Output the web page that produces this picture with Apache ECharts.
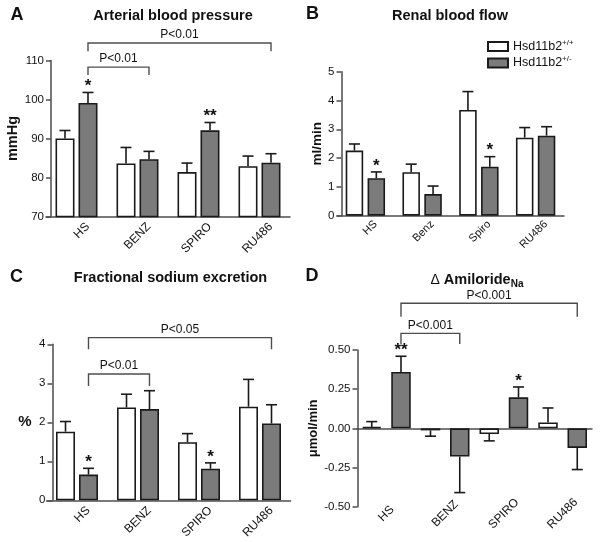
<!DOCTYPE html>
<html><head><meta charset="utf-8">
<script src="https://cdn.jsdelivr.net/npm/echarts@6/dist/echarts.min.js"></script>
<style>html,body{margin:0;padding:0;background:#fff}#c{width:600px;height:542px}</style>
</head><body><div id="c"></div>
<script>
// ---------- data ----------
const groupsUpper = ['HS', 'BENZ', 'SPIRO', 'RU486'];
const groupsB = ['HS', 'Benz', 'Spiro', 'RU486'];
const seriesNames = ['Hsd11b2+/+', 'Hsd11b2+/-'];

// A: arterial blood pressure (mmHg)
const bpWT = [90.0, 83.6, 81.4, 82.9];
const bpWTErr = [2.05, 4.1, 2.3, 2.6];
const bpHet = [99.1, 84.7, 92.1, 83.8];
const bpHetErr = [2.7, 2.0, 2.0, 2.3];
const bpHetSig = ['*', '', '**', ''];
const bpBrackets = [[0, 3, 114.5, 112.4], [0, 1, 108.3, 106.3]];
const bpBracketLabels = ['P<0.01', 'P<0.01'];
const bpTicks = [70, 80, 90, 100, 110];

// B: renal blood flow (ml/min)
const rbfWT = [2.26, 1.51, 3.67, 2.71];
const rbfWTErr = [0.23, 0.28, 0.64, 0.35];
const rbfHet = [1.30, 0.75, 1.70, 2.78];
const rbfHetErr = [0.22, 0.28, 0.35, 0.31];
const rbfHetSig = ['*', '', '*', ''];
const rbfTicks = [0, 1, 2, 3, 4, 5];

// C: fractional sodium excretion (%)
const fenaWT = [1.76, 2.38, 1.49, 2.40];
const fenaWTErr = [0.26, 0.34, 0.22, 0.70];
const fenaHet = [0.66, 2.34, 0.81, 1.97];
const fenaHetErr = [0.16, 0.47, 0.15, 0.48];
const fenaHetSig = ['*', '', '*', ''];
const fenaBrackets = [[0, 3, 4.17, 3.87], [0, 1, 3.24, 2.93]];
const fenaBracketLabels = ['P<0.05', 'P<0.01'];
const fenaTicks = [0, 1, 2, 3, 4];

// D: delta amiloride Na (umol/min)
const amiWT = [0.009, -0.013, -0.036, 0.038];
const amiWTErr = [0.034, 0.037, 0.044, 0.092];
const amiHet = [0.36, -0.18, 0.198, -0.125];
const amiHetErr = [0.10, 0.23, 0.066, 0.138];
const amiHetSig = ['**', '', '*', ''];
const amiBrackets = [[0, 3, 0.798, 0.712], [0, 1, 0.606, 0.538]];
const amiBracketLabels = ['P<0.001', 'P<0.001'];
const amiTicks = [-0.5, -0.25, 0, 0.25, 0.5];

// ---------- styles ----------
const FONT = '"Liberation Sans", Arial, Helvetica, sans-serif';
const TXT = '#111111';
const AX = '#4d4d4d';
const BORDER = '#1a1a1a';
const GRAY = '#7b7b7b';

const panels = [
  { cats: groupsUpper, wt: bpWT, wtErr: bpWTErr, het: bpHet, hetErr: bpHetErr, sig: bpHetSig,
    br: bpBrackets, brLab: bpBracketLabels, ticks: bpTicks, dec: 0, name: 'mmHg',
    grid: { left: 46, top: 60.5, width: 244, height: 156 }, yOff: -5, barW: 19, gap: 0.21,
    nameGap: 22, nameRotate: 90, nameSize: 14.5,
    xl: { fontSize: 12, rotate: 45, align: 'right', verticalAlign: 'top', padding: [10, 0, 0, 0], margin: -3 } },
  { cats: groupsB, wt: rbfWT, wtErr: rbfWTErr, het: rbfHet, hetErr: rbfHetErr, sig: rbfHetSig,
    br: [], brLab: [], ticks: rbfTicks, dec: 0, name: 'ml/min',
    grid: { left: 337, top: 71.7, width: 227, height: 144 }, yOff: -4.5, barW: 17.5, gap: 0.25,
    nameGap: 13.5, nameRotate: 90, nameSize: 13.5,
    xl: { fontSize: 11, rotate: 45, align: 'right', verticalAlign: 'top', padding: [9, 0, 0, 0], margin: -3.5 } },
  { cats: groupsUpper, wt: fenaWT, wtErr: fenaWTErr, het: fenaHet, hetErr: fenaHetErr, sig: fenaHetSig,
    br: fenaBrackets, brLab: fenaBracketLabels, ticks: fenaTicks, dec: 0, name: '%',
    grid: { left: 46.5, top: 344.3, width: 244, height: 156 }, yOff: -6, barW: 19, gap: 0.21,
    nameGap: 21, nameRotate: 0, nameSize: 15,
    xl: { fontSize: 12, rotate: 45, align: 'right', verticalAlign: 'top', padding: [10, 0, 0, 0], margin: -3 } },
  { cats: groupsUpper, wt: amiWT, wtErr: amiWTErr, het: amiHet, hetErr: amiHetErr, sig: amiHetSig,
    br: amiBrackets, brLab: amiBracketLabels, ticks: amiTicks, dec: 2, name: '\u03bcmol/min',
    grid: { left: 357, top: 350, width: 235, height: 156.7 }, yOff: -0.5, barW: 19.5, gap: 0.5,
    nameGap: 35, nameRotate: 90, nameSize: 13, zeroLine: true,
    xl: { fontSize: 12, rotate: 45, align: 'center', verticalAlign: 'middle', margin: 7 } }
];

function errRender(off, capW) {
  return function (params, api) {
    const i = api.value(0), v = api.value(1), e = api.value(2);
    const base = api.coord([i, v]);
    const tip = api.coord([i, v + (v >= 0 ? e : -e)]);
    const x = base[0] + off;
    const st = { stroke: BORDER, lineWidth: 1.6 };
    return { type: 'group', children: [
      { type: 'line', shape: { x1: x, y1: base[1], x2: x, y2: tip[1] }, style: st },
      { type: 'line', shape: { x1: x - capW / 2, y1: tip[1], x2: x + capW / 2, y2: tip[1] }, style: st }
    ]};
  };
}
function starRender(off, sig) {
  return function (params, api) {
    const s = sig[params.dataIndex];
    if (!s) return null;
    const i = api.value(0), v = api.value(1), e = api.value(2);
    const tip = api.coord([i, v + (v >= 0 ? e : -e)]);
    return { type: 'text', x: tip[0] + off, y: tip[1] - 6,
      style: { text: s, fill: TXT, font: 'bold 17px ' + FONT,
        align: 'center', verticalAlign: 'middle', textAlign: 'center', textVerticalAlign: 'middle' } };
  };
}
function bracketRender(off, labels) {
  return function (params, api) {
    const a = api.value(0), b = api.value(1), yl = api.value(2), ye = api.value(3);
    const pA = api.coord([a, yl]), pB = api.coord([b, yl]);
    const yE = api.coord([a, ye])[1];
    const x1 = pA[0] + off, x2 = pB[0] + off, y = pA[1];
    return { type: 'group', children: [
      { type: 'polyline', shape: { points: [[x1, yE], [x1, y], [x2, y], [x2, yE]] },
        style: { stroke: AX, lineWidth: 1.4, fill: null } },
      { type: 'text', x: (x1 + x2) / 2, y: y - 2,
        style: { text: labels[params.dataIndex], fill: TXT, font: '12px ' + FONT,
          align: 'center', verticalAlign: 'bottom', textAlign: 'center', textVerticalAlign: 'bottom' } }
    ]};
  };
}

const option = {
  animation: false,
  backgroundColor: '#fff',
  textStyle: { fontFamily: FONT },
  grid: [], xAxis: [], yAxis: [], series: [],
  legend: {
    data: seriesNames, orient: 'vertical', left: 487, top: 38.5, padding: 0,
    itemWidth: 20, itemHeight: 9, itemGap: 2, icon: 'rect', selectedMode: false,
    formatter: function (name) { return '{n|Hsd11b2}{s|' + name.slice(7) + '}'; },
    textStyle: { color: TXT, fontFamily: FONT,
      rich: { n: { fontSize: 12.5, lineHeight: 16, color: TXT, fontFamily: FONT },
              s: { fontSize: 8, lineHeight: 8, verticalAlign: 'top', color: TXT, fontFamily: FONT } } }
  },
  graphic: []
};

panels.forEach(function (p, k) {
  option.grid.push(Object.assign({ outerBoundsMode: 'none', containLabel: false }, p.grid));
  const axLine = { color: AX, width: 1.5 };
  const xl = Object.assign({ interval: 0, color: TXT, fontFamily: FONT }, p.xl);
  if (p.zeroLine) {
    option.xAxis.push({ type: 'category', gridIndex: k, data: p.cats, axisTick: { show: false },
      axisLine: { show: true, onZero: true, lineStyle: axLine }, axisLabel: { show: false } });
  } else {
    option.xAxis.push({ type: 'category', gridIndex: k, data: p.cats, axisTick: { show: false },
      axisLine: { show: true, onZero: false, lineStyle: axLine }, axisLabel: xl });
  }
  const tk = p.ticks;
  option.yAxis.push({
    type: 'value', gridIndex: k, min: tk[0], max: tk[tk.length - 1], interval: tk[1] - tk[0],
    offset: p.yOff, splitLine: { show: false },
    axisLine: { show: true, lineStyle: axLine },
    axisTick: { show: true, length: 5, lineStyle: axLine },
    axisLabel: { fontSize: 11.5, color: TXT, margin: 7, formatter: function (v) { return v.toFixed(p.dec); } },
    name: p.name, nameLocation: 'middle', nameGap: p.nameGap, nameRotate: p.nameRotate,
    nameTextStyle: { fontWeight: 'bold', fontSize: p.nameSize, color: TXT, fontFamily: FONT }
  });
  const off = p.barW * (1 + p.gap) / 2;
  const common = { xAxisIndex: k, yAxisIndex: k, barWidth: p.barW, barGap: (p.gap * 100) + '%' };
  option.series.push(Object.assign({ type: 'bar', name: seriesNames[0], data: p.wt,
    itemStyle: { color: '#ffffff', borderColor: BORDER, borderWidth: 1.6 } }, common));
  option.series.push(Object.assign({ type: 'bar', name: seriesNames[1], data: p.het,
    itemStyle: { color: GRAY, borderColor: BORDER, borderWidth: 1.6 } }, common));
  option.series.push({ type: 'custom', xAxisIndex: k, yAxisIndex: k, clip: false, z: 4,
    data: p.wt.map(function (v, i) { return [i, v, p.wtErr[i]]; }), renderItem: errRender(-off, 11) });
  option.series.push({ type: 'custom', xAxisIndex: k, yAxisIndex: k, clip: false, z: 4,
    data: p.het.map(function (v, i) { return [i, v, p.hetErr[i]]; }), renderItem: errRender(off, 11) });
  option.series.push({ type: 'custom', xAxisIndex: k, yAxisIndex: k, clip: false, z: 5,
    data: p.het.map(function (v, i) { return [i, v, p.hetErr[i]]; }), renderItem: starRender(off, p.sig) });
  if (p.br.length) {
    option.series.push({ type: 'custom', xAxisIndex: k, yAxisIndex: k, clip: false, z: 5,
      data: p.br, renderItem: bracketRender(off, p.brLab) });
  }
});
// label-only axis for panel D (labels at the bottom, line at zero)
option.xAxis.push({ type: 'category', gridIndex: 3, data: panels[3].cats, position: 'bottom',
  axisTick: { show: false }, axisLine: { show: false, onZero: false },
  axisLabel: Object.assign({ interval: 0, color: TXT, fontFamily: FONT }, panels[3].xl) });

function gtext(x, y, text, font, extra) {
  return { type: 'text', x: x, y: y, silent: true,
    style: Object.assign({ text: text, font: font, fill: TXT, align: 'center', verticalAlign: 'middle',
      textAlign: 'center', textVerticalAlign: 'middle' }, extra || {}) };
}
option.graphic = [
  gtext(17, 15, 'A', 'bold 18px ' + FONT),
  gtext(312.5, 14.5, 'B', 'bold 18px ' + FONT),
  gtext(16.5, 277.5, 'C', 'bold 18px ' + FONT),
  gtext(312, 276, 'D', 'bold 18px ' + FONT),
  gtext(173, 15.5, 'Arterial blood pressure', 'bold 14.5px ' + FONT),
  gtext(450, 15.5, 'Renal blood flow', 'bold 14.5px ' + FONT),
  gtext(170.5, 277.5, 'Fractional sodium excretion', 'bold 14.5px ' + FONT),
  gtext(477, 280, '{d|\u0394 }{t|Amiloride}{s|Na}', 'bold 14px ' + FONT, {
    rich: {
      d: { fontSize: 14, fontWeight: 'normal', lineHeight: 18, fill: TXT, fontFamily: FONT },
      t: { fontSize: 14.5, fontWeight: 'bold', lineHeight: 18, fill: TXT, fontFamily: FONT },
      s: { fontSize: 10, fontWeight: 'bold', lineHeight: 8, verticalAlign: 'bottom', fill: TXT, fontFamily: FONT }
    } })
];

const chart = echarts.init(document.getElementById('c'), null, { renderer: 'canvas' });
chart.setOption(option);
</script>
</body></html>
